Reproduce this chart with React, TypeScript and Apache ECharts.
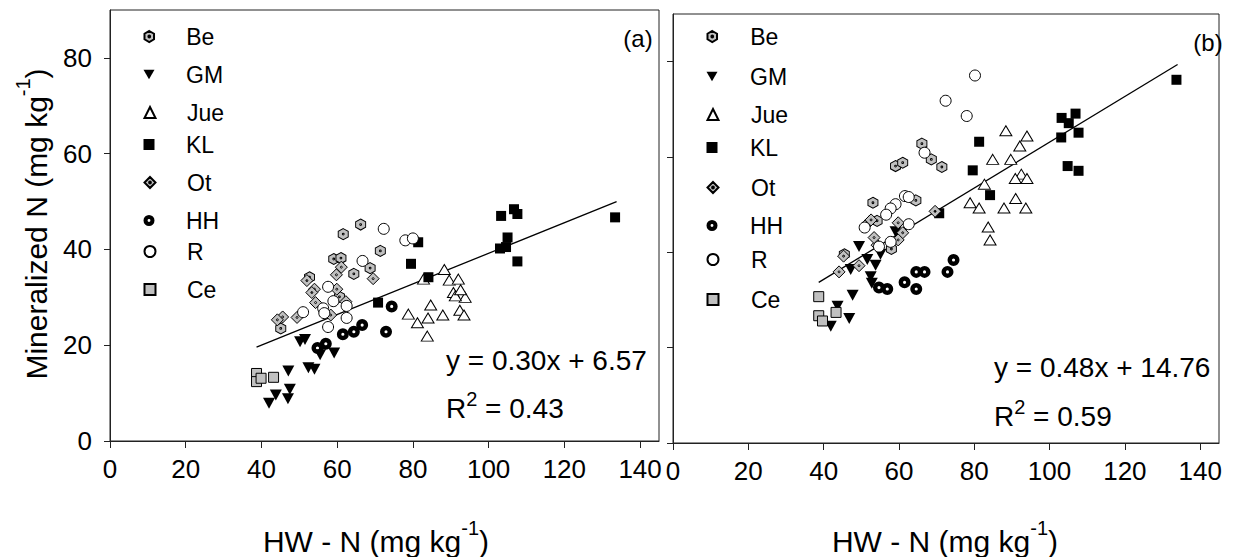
import React, { useEffect, useRef } from 'react';
import * as echarts from 'echarts';

// ---------- data (HW-N, Mineralized N) ----------
const categories = ['Be', 'GM', 'Jue', 'KL', 'Ot', 'HH', 'R', 'Ce'];
const xTicks = [0, 20, 40, 60, 80, 100, 120, 140];
const yTicks = [0, 20, 40, 60, 80];

// panel (a)
const beA = [[66.2, 45.2], [61.6, 43.2], [71.4, 39.7], [59.1, 38.0], [61.0, 38.2], [64.4, 34.9], [68.7, 36.1], [52.7, 34.2], [60.6, 30.1], [45.1, 23.5]];
const gmA = [[50.2, 20.7], [51.5, 21.2], [55.5, 18.0], [59.2, 18.4], [47.1, 14.6], [52.4, 15.3], [54.0, 15.0], [47.5, 10.8], [43.8, 9.6], [47.0, 8.8], [42.0, 7.9]];
const jueA = [[88.3, 35.8], [89.6, 33.6], [82.8, 33.8], [90.7, 31.0], [84.7, 28.4], [78.8, 26.5], [81.2, 24.7], [84.0, 25.7], [87.9, 26.3], [83.8, 21.9], [92.4, 27.3], [93.5, 26.3], [92.0, 33.8], [93.8, 30.0], [91.2, 30.3], [92.6, 31.6]];
const klA = [[81.4, 41.5], [79.5, 37.0], [84.1, 34.2], [70.8, 28.9], [103.3, 47.0], [106.7, 48.4], [107.6, 47.4], [105.0, 42.5], [103.0, 40.2], [104.6, 40.5], [133.4, 46.7], [107.6, 37.5]];
const otA = [[52.0, 33.5], [54.0, 31.7], [53.3, 31.0], [59.8, 34.7], [61.1, 36.3], [54.3, 28.9], [59.9, 31.7], [45.6, 25.9], [44.2, 25.3], [49.4, 25.8], [58.3, 26.3], [69.5, 33.9], [62.3, 29.1]];
const hhA = [[74.4, 28.1], [72.9, 22.8], [66.6, 24.2], [64.4, 22.8], [61.5, 22.3], [57.0, 20.3], [54.8, 19.4]];
const rA = [[72.3, 44.3], [78.0, 41.9], [80.0, 42.3], [66.7, 37.6], [57.6, 32.2], [59.0, 29.2], [56.3, 27.7], [56.6, 26.7], [62.5, 28.2], [62.5, 25.7], [57.6, 23.8], [51.0, 26.9]];
const ceA = [[38.7, 14.1], [38.7, 12.4], [39.9, 13.1], [43.2, 13.3]];
const fitA = [[38.7, 19.6], [133.8, 50.0]];

// panel (b)
const beB = [[66.1, 62.8], [68.6, 59.5], [71.4, 57.9], [59.1, 58.1], [61.0, 58.8], [53.1, 50.4], [64.5, 50.9], [54.2, 46.6], [58.0, 40.7], [45.5, 39.6]];
const gmB = [[49.4, 41.2], [47.2, 36.4], [51.6, 38.5], [53.8, 37.3], [55.1, 39.6], [59.1, 44.3], [52.5, 34.9], [52.8, 33.5], [47.7, 31.0], [43.7, 28.7], [46.8, 26.1], [41.9, 24.5]];
const jueB = [[88.4, 65.5], [94.0, 64.4], [92.1, 62.3], [84.9, 59.5], [89.7, 59.5], [92.5, 56.4], [90.9, 55.5], [94.0, 55.5], [82.7, 54.3], [91.0, 51.3], [78.9, 50.4], [81.3, 49.3], [87.9, 49.3], [93.7, 49.3], [83.7, 45.3], [84.2, 42.6]];
const klB = [[81.3, 63.2], [79.6, 57.2], [84.2, 52.0], [70.7, 48.2], [103.2, 68.2], [106.9, 69.1], [105.1, 67.1], [107.7, 65.1], [103.1, 64.1], [104.8, 58.1], [107.7, 57.1], [133.7, 76.2]];
const otB = [[52.1, 46.4], [59.8, 46.2], [61.0, 44.1], [59.8, 42.6], [54.2, 41.5], [69.6, 48.6], [49.4, 37.2], [44.1, 35.9], [45.3, 39.2], [53.4, 43.1], [52.6, 46.8]];
const hhB = [[54.7, 32.6], [56.9, 32.3], [61.5, 33.7], [64.6, 32.3], [64.6, 35.9], [66.8, 35.9], [72.9, 35.9], [74.5, 38.4]];
const rB = [[80.2, 77.1], [72.4, 71.8], [78.0, 68.6], [66.8, 60.9], [59.1, 50.1], [57.8, 49.2], [56.6, 47.9], [61.6, 51.8], [62.6, 51.6], [50.9, 45.2], [62.6, 45.9], [57.8, 42.2], [54.7, 41.2]];
const ceB = [[38.7, 30.7], [38.7, 26.7], [39.7, 25.6], [43.3, 27.4]];
const fitB = [[38.7, 33.7], [134.0, 79.4]];

const panelA = [beA, gmA, jueA, klA, otA, hhA, rA, ceA];
const panelB = [beB, gmB, jueB, klB, otB, hhB, rB, ceB];

const eqA = ['y = 0.30x + 6.57', '0.43'];
const eqB = ['y = 0.48x + 14.76', '0.59'];

// ---------- styles ----------
const FONT = '"Liberation Sans", Arial, Helvetica, sans-serif';
const GRAY = '#c0c0c0';
const DOT = 'M-1.6,0A1.6,1.6,0,1,0,1.6,0A1.6,1.6,0,1,0,-1.6,0Z';
const HEX = 'path://M0,-10L8.66,-5L8.66,5L0,10L-8.66,5L-8.66,-5Z' + DOT;
const DIAMOND = 'path://M0,-10L10,0L0,10L-10,0Z' + DOT;
const RING = 'path://M-10,0A10,10,0,1,1,10,0A10,10,0,1,1,-10,0ZM-2.6,0A2.6,2.6,0,1,0,2.6,0A2.6,2.6,0,1,0,-2.6,0Z';
const DOWN = 'path://M-10,-8.5L10,-8.5L0,8.5Z';

const styles: Record<string, any> = {
  Be: { symbol: HEX, size: [10, 11], fill: GRAY, stroke: '#000', bw: 1 },
  GM: { symbol: DOWN, size: [12, 11], fill: '#000', stroke: '#000', bw: 0 },
  Jue: { symbol: 'triangle', size: [12, 10], fill: '#fff', stroke: '#000', bw: 1 },
  KL: { symbol: 'rect', size: 10, fill: '#000', stroke: '#000', bw: 0 },
  Ot: { symbol: DIAMOND, size: 12, fill: GRAY, stroke: '#000', bw: 1 },
  HH: { symbol: RING, size: 12, fill: '#000', stroke: '#000', bw: 0 },
  R: { symbol: 'circle', size: 11, fill: '#fff', stroke: '#000', bw: 1 },
  Ce: { symbol: 'rect', size: 10, fill: GRAY, stroke: '#000', bw: 1 },
};

const legendRowsA = [37, 75, 113, 145, 183, 221, 252, 290];
const legendRowsB = [37, 77, 115, 148, 188, 226, 260, 300];

function scatter(name: string, data: number[][], idx: number) {
  const st = styles[name];
  return {
    type: 'scatter',
    name,
    data,
    xAxisIndex: idx,
    yAxisIndex: idx,
    symbol: st.symbol,
    symbolSize: st.size,
    itemStyle: { color: st.fill, borderColor: st.stroke, borderWidth: st.bw, opacity: 1 },
    emphasis: { disabled: true },
    z: 3,
  };
}

function fitLine(data: number[][], idx: number) {
  return {
    type: 'line',
    name: 'fit' + idx,
    data,
    xAxisIndex: idx,
    yAxisIndex: idx,
    symbol: 'none',
    lineStyle: { color: '#000', width: 1.3 },
    silent: true,
    z: 2,
  };
}

function legends(rows: number[], iconCenterX: number, textX: number) {
  const iw = 11;
  const left = iconCenterX - iw / 2;
  const gap = textX - (left + iw + 5);
  return categories.map((c, i) => ({
    data: [c],
    orient: 'vertical',
    left,
    top: rows[i] - 12,
    padding: 0,
    itemWidth: iw,
    itemHeight: iw,
    selectedMode: false,
    formatter: (n: string) => `{g| }{t|${n}}`,
    textStyle: {
      rich: {
        g: { width: gap },
        t: { fontSize: 23, fontFamily: FONT, color: '#000' },
      },
    },
  }));
}

function xAxis(idx: number) {
  return {
    type: 'value',
    gridIndex: idx,
    min: 0,
    max: 145,
    axisLine: { show: true, onZero: false, lineStyle: { color: '#222', width: 1 } },
    axisTick: { show: true, inside: false, length: 7, lineStyle: { color: '#222' }, customValues: xTicks },
    axisLabel: { customValues: xTicks, margin: 15, fontSize: 26, fontFamily: FONT, color: '#000' },
    splitLine: { show: false },
  };
}

function yAxis(idx: number, labels: boolean) {
  return {
    type: 'value',
    gridIndex: idx,
    min: 0,
    max: 90,
    axisLine: { show: true, onZero: false, lineStyle: { color: '#222', width: 1 } },
    axisTick: { show: true, inside: false, length: 6, lineStyle: { color: '#222' }, customValues: yTicks },
    axisLabel: { show: labels, customValues: yTicks, margin: 18, fontSize: 26, fontFamily: FONT, color: '#000' },
    splitLine: { show: false },
  };
}

const titleRich = {
  a: { fontSize: 30, fontFamily: FONT },
  s: { fontSize: 20, fontFamily: FONT, padding: [0, 0, 26, 0] },
};
const eqRich = {
  n: { fontSize: 28, fontFamily: FONT },
  s: { fontSize: 20, fontFamily: FONT, padding: [0, 0, 18, 0] },
};

function eqTexts(eq: string[], x: number, y1: number, y2: number) {
  return [
    { type: 'text', x, y: y1, style: { text: `{n|${eq[0]}}`, rich: eqRich, fill: '#000', align: 'left', verticalAlign: 'middle' } },
    { type: 'text', x, y: y2, style: { text: `{n|R}{s|2}{n| = ${eq[1]}}`, rich: eqRich, fill: '#000', align: 'left', verticalAlign: 'middle' } },
  ];
}

export default function App() {
  const ref = useRef<HTMLDivElement>(null);
  useEffect(() => {
    if (!ref.current) return;
    const chart = echarts.init(ref.current, undefined, { renderer: 'svg' });
    const series: any[] = [];
    categories.forEach((c, i) => series.push(scatter(c, panelA[i], 0)));
    categories.forEach((c, i) => series.push(scatter(c, panelB[i], 1)));
    series.push(fitLine(fitA, 0));
    series.push(fitLine(fitB, 1));

    const option: any = {
      animation: false,
      backgroundColor: '#fff',
      grid: [
        { left: 110, top: 10, width: 549, height: 431, show: true, borderColor: '#222', borderWidth: 1 },
        { left: 673, top: 14, width: 546, height: 429, show: true, borderColor: '#222', borderWidth: 1 },
      ],
      xAxis: [xAxis(0), xAxis(1)],
      yAxis: [yAxis(0, true), yAxis(1, false)],
      legend: [...legends(legendRowsA, 149, 186), ...legends(legendRowsB, 712, 750)],
      series,
      graphic: [
        {
          type: 'text', x: 36, y: 224, rotation: Math.PI / 2,
          style: { text: '{a|Mineralized N (mg kg}{s|-1}{a|)}', rich: titleRich, fill: '#000', align: 'center', verticalAlign: 'middle' },
        },
        {
          type: 'text', x: 376, y: 541,
          style: { text: '{a|HW - N (mg kg}{s|-1}{a|)}', rich: titleRich, fill: '#000', align: 'center', verticalAlign: 'middle' },
        },
        {
          type: 'text', x: 945, y: 541,
          style: { text: '{a|HW - N (mg kg}{s|-1}{a|)}', rich: titleRich, fill: '#000', align: 'center', verticalAlign: 'middle' },
        },
        { type: 'text', x: 638, y: 38, style: { text: '(a)', fontSize: 24, fontFamily: FONT, fill: '#000', align: 'center', verticalAlign: 'middle' } },
        { type: 'text', x: 1208, y: 42, style: { text: '(b)', fontSize: 24, fontFamily: FONT, fill: '#000', align: 'center', verticalAlign: 'middle' } },
        ...eqTexts(eqA, 446, 360, 408),
        ...eqTexts(eqB, 994, 367, 416),
      ],
    };
    chart.setOption(option);
    return () => chart.dispose();
  }, []);
  return <div ref={ref} style={{ position: 'absolute', left: 0, top: 0, width: 1235, height: 557 }} />;
}
